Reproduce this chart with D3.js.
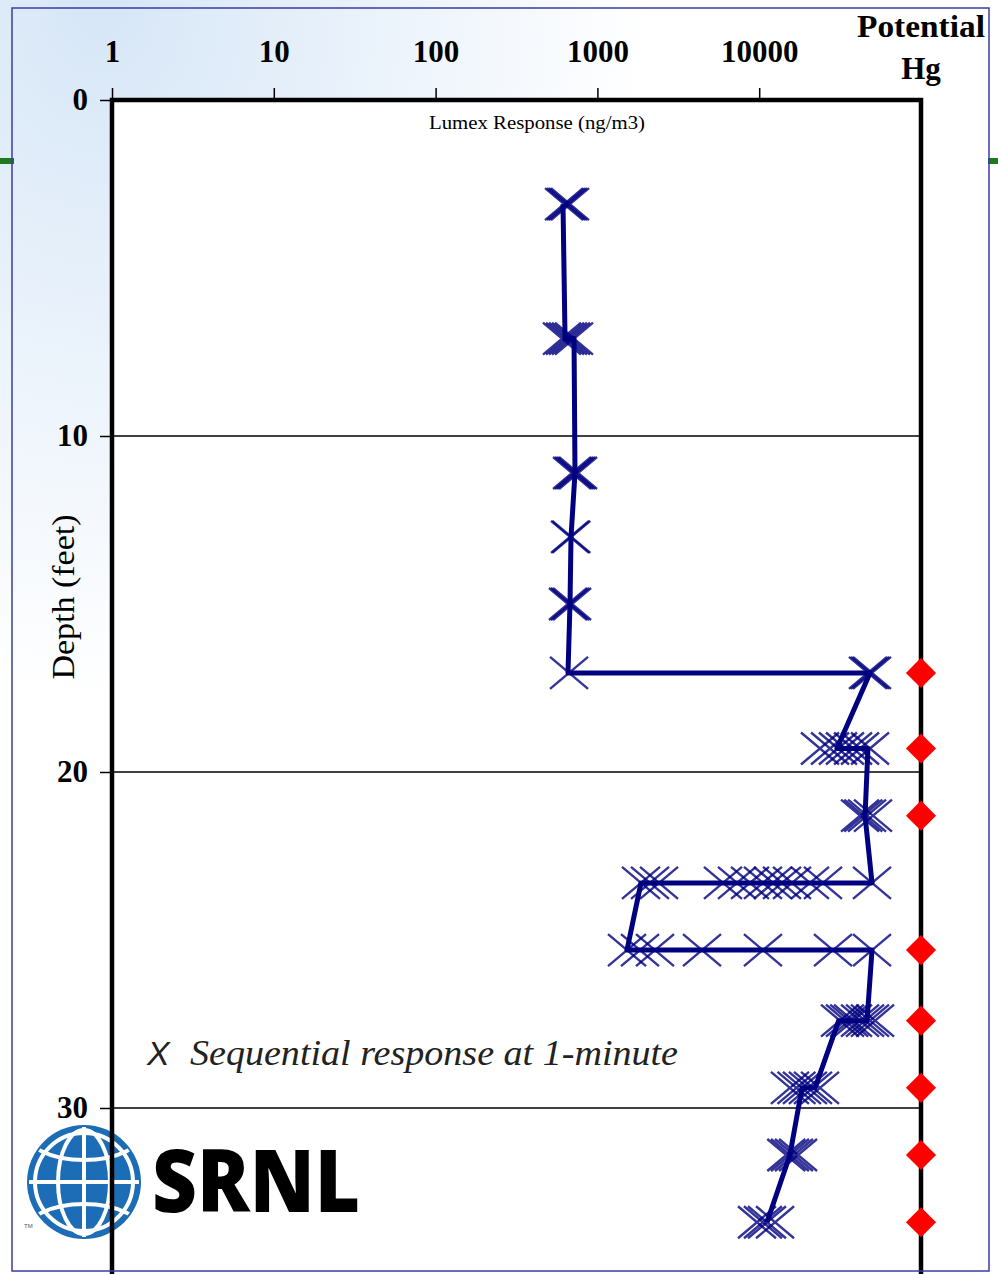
<!DOCTYPE html>
<html>
<head>
<meta charset="utf-8">
<script src="https://cdn.jsdelivr.net/npm/d3@7"></script>
<style>
  body { margin: 0; background: #fff; }
  svg { display: block; }
</style>
</head>
<body>
<div class="data_figure"></div>
<script>
// ---- data ----
// depth (ft) of each sampling station
const stationDepth = [3.1, 7.1, 11.1, 13.0, 15.0, 17.05, 19.3, 21.3, 23.3, 25.3, 27.4, 29.4, 31.4, 33.4];
// sequential 1-minute Lumex readings (ng/m3) at each station
const stationReadings = [
    [622, 640, 658, 677],
    [604, 631, 658, 687, 717],
    [697, 717, 738, 759],
    [677, 690],
    [658, 677, 697],
    [668, 47000, 48400, 49800],
    [23750, 27400, 30680, 33900, 38000, 42000, 48400],
    [42000, 44000, 46400, 50500],
    [1860, 2114, 2404, 5970, 7290, 8770, 10550, 12160, 13830, 15950, 20600, 24780, 49800],
    [1524, 1834, 2270, 4430, 10550, 28580, 49800],
    [31570, 33900, 36000, 38000, 42000, 45100, 48400, 52000],
    [15490, 17000, 18380, 20000, 21500, 23750],
    [14700, 15490, 16400, 17380],
    [9690, 10550, 11170, 12530]
];
// trace of the connecting line (depth, reading)
const traceDepth = [3.1, 7.1, 7.1, 11.1, 13.0, 15.0, 17.05, 17.05, 19.3, 19.3, 21.3, 23.3, 23.3, 25.3, 25.3, 27.4, 27.4, 29.4, 29.4, 31.4, 33.4];
const traceValue = [613, 631, 717, 727, 687, 677, 658, 48400, 30240, 47000, 45100, 49800, 1860, 1524, 49800, 46400, 31000, 22130, 18380, 15490, 11170];
// depths flagged as potential Hg
const hgDepth = [17.05, 19.3, 21.3, 25.3, 27.4, 29.4, 31.4, 33.4];

const xTicks = [1, 10, 100, 1000, 10000];
const yTicks = [0, 10, 20, 30];

const widthMax = 998;
const heightMax = 1274;
const margin = { top: 100, left: 112, right: 77 };

const navy = "#000080";

function drawChart() {
    const svg = d3.select(".data_figure")
                  .append("svg")
                  .attr("width", widthMax)
                  .attr("height", heightMax);

    // slide background
    const defs = svg.append("defs");
    const bg = defs.append("radialGradient")
                   .attr("id", "bg")
                   .attr("cx", "0.1").attr("cy", "0.0").attr("r", "0.55");
    bg.append("stop").attr("offset", "0%").attr("stop-color", "#d6e6f7");
    bg.append("stop").attr("offset", "100%").attr("stop-color", "#ffffff");
    svg.append("rect").attr("width", widthMax).attr("height", heightMax).attr("fill", "url(#bg)");

    // green slide bar peeking out at the edges
    svg.append("rect").attr("x", 0).attr("y", 158).attr("width", 14).attr("height", 6).attr("fill", "#1f7a1f");
    svg.append("rect").attr("x", 988).attr("y", 158).attr("width", 10).attr("height", 6).attr("fill", "#1f7a1f");

    const x = d3.scaleLog()
                .domain([1, 100000])
                .range([margin.left, widthMax - margin.right]);
    const y = d3.scaleLinear()
                .domain([0, 35])
                .range([margin.top, margin.top + 35 * 33.6]);

    const xR = x.range()[1];

    // plot area
    svg.append("rect")
       .attr("x", margin.left).attr("y", margin.top)
       .attr("width", xR - margin.left).attr("height", heightMax - margin.top)
       .attr("fill", "#fff");

    // grid lines
    svg.append("g")
       .selectAll("line")
       .data(yTicks.slice(1))
       .enter()
           .append("line")
           .attr("x1", margin.left).attr("x2", xR)
           .attr("y1", (d) => y(d)).attr("y2", (d) => y(d))
           .attr("stroke", "#000").attr("stroke-width", 1.5);

    // SRNL logo
    const logo = svg.append("g").attr("transform", "translate(84,1182)");
    defs.append("clipPath").attr("id", "globe")
        .append("circle").attr("r", 55);
    logo.append("circle").attr("r", 57).attr("fill", "#1c6db5");
    const gl = logo.append("g").attr("clip-path", "url(#globe)")
                   .attr("fill", "none").attr("stroke", "#fff").attr("stroke-width", 4);
    gl.append("circle").attr("r", 49);
    gl.append("ellipse").attr("rx", 26).attr("ry", 52);
    gl.append("line").attr("x1", 0).attr("x2", 0).attr("y1", -60).attr("y2", 60);
    gl.append("line").attr("x1", -60).attr("x2", 60).attr("y1", 0).attr("y2", 0);
    gl.append("ellipse").attr("cy", -52).attr("rx", 60).attr("ry", 30);
    gl.append("ellipse").attr("cy", 52).attr("rx", 60).attr("ry", 30);
    svg.append("text").text("TM").attr("x", 24).attr("y", 1228)
       .attr("font-family", "Liberation Sans").attr("font-size", 6).attr("fill", "#555");
    svg.append("text").text("SRNL")
       .attr("x", 152).attr("y", 1212)
       .attr("font-family", "Open Sans").attr("font-weight", 800)
       .attr("font-size", 86).attr("textLength", 208).attr("lengthAdjust", "spacingAndGlyphs")
       .attr("fill", "#000");

    // legend note
    svg.append("text").text("X")
       .attr("x", 147).attr("y", 1065)
       .attr("font-family", "Liberation Sans").attr("font-style", "italic")
       .attr("font-size", 34).attr("fill", "#222");
    svg.append("text").text("Sequential response at 1-minute")
       .attr("x", 190).attr("y", 1065)
       .attr("font-family", "Liberation Serif").attr("font-style", "italic")
       .attr("font-size", 36).attr("textLength", 488).attr("lengthAdjust", "spacingAndGlyphs")
       .attr("fill", "#222");

    // axes
    const xAxis = svg.append("g")
                     .attr("transform", "translate(0," + margin.top + ")")
                     .call(d3.axisTop(x).tickValues(xTicks).tickFormat(d3.format("d")).tickSize(12).tickSizeOuter(0));
    xAxis.select(".domain").remove();
    xAxis.selectAll("line").attr("stroke-width", 1.5);
    xAxis.selectAll("text")
         .attr("y", -38)
         .attr("font-family", "Liberation Serif").attr("font-weight", "bold")
         .attr("font-size", 31).attr("fill", "#000");

    const yAxis = svg.append("g")
                     .attr("transform", "translate(" + margin.left + ",0)")
                     .call(d3.axisLeft(y).tickValues(yTicks).tickSize(12).tickSizeOuter(0));
    yAxis.select(".domain").remove();
    yAxis.selectAll("line").attr("stroke-width", 1.5);
    yAxis.selectAll("text")
         .attr("x", -24)
         .attr("font-family", "Liberation Serif").attr("font-weight", "bold")
         .attr("font-size", 31).attr("fill", "#000");

    // frame
    svg.append("path")
       .attr("d", "M" + margin.left + "," + heightMax + "V" + margin.top + "H" + xR + "V" + heightMax)
       .attr("fill", "none").attr("stroke", "#000").attr("stroke-width", 4.5);

    // axis titles
    svg.append("text").text("Lumex Response (ng/m3)")
       .attr("x", 537).attr("y", 129).attr("text-anchor", "middle")
       .attr("font-family", "Liberation Serif").attr("font-size", 19)
       .attr("textLength", 216).attr("lengthAdjust", "spacingAndGlyphs");
    svg.append("text").text("Depth (feet)")
       .attr("transform", "translate(74,597) rotate(-90)")
       .attr("text-anchor", "middle")
       .attr("font-family", "Liberation Serif").attr("font-size", 31)
       .attr("textLength", 165).attr("lengthAdjust", "spacingAndGlyphs");
    svg.append("text").text("Potential")
       .attr("x", 921).attr("y", 37).attr("text-anchor", "middle")
       .attr("font-family", "Liberation Serif").attr("font-weight", "bold").attr("font-size", 31)
       .attr("textLength", 128).attr("lengthAdjust", "spacingAndGlyphs");
    svg.append("text").text("Hg")
       .attr("x", 921).attr("y", 79).attr("text-anchor", "middle")
       .attr("font-family", "Liberation Serif").attr("font-weight", "bold").attr("font-size", 31);

    // connecting line
    const trace = traceDepth.map((d, i) => [traceValue[i], d]);
    svg.append("path")
       .datum(trace)
       .attr("d", d3.line().x((d) => x(d[0])).y((d) => y(d[1])))
       .attr("fill", "none").attr("stroke", navy)
       .attr("stroke-width", 5).attr("stroke-linejoin", "round");

    // sequential readings as X marks
    const marks = [];
    stationDepth.forEach((dep, i) => {
        stationReadings[i].forEach((v) => marks.push({ depth: dep, value: v }));
    });
    svg.append("g")
       .selectAll("path")
       .data(marks)
       .enter()
           .append("path")
           .attr("transform", (d) => "translate(" + x(d.value) + "," + y(d.depth) + ")")
           .attr("d", "M-19,-16L19,16M-19,16L19,-16")
           .attr("stroke", navy).attr("stroke-width", 2.4)
           .attr("stroke-opacity", 0.8).attr("fill", "none");

    // potential Hg diamonds on the right axis
    svg.append("g")
       .selectAll("path")
       .data(hgDepth)
       .enter()
           .append("path")
           .attr("transform", (d) => "translate(" + xR + "," + y(d) + ")")
           .attr("d", d3.symbol().type(d3.symbolDiamond2).size(2 * 17 * 17))
           .attr("fill", "#ff0000");

    // slide border
    svg.append("rect")
       .attr("x", 12).attr("y", 8).attr("width", 977).attr("height", 1263)
       .attr("fill", "none").attr("stroke", "#3b3ba8").attr("stroke-width", 1.5);
}

drawChart();
</script>
</body>
</html>
